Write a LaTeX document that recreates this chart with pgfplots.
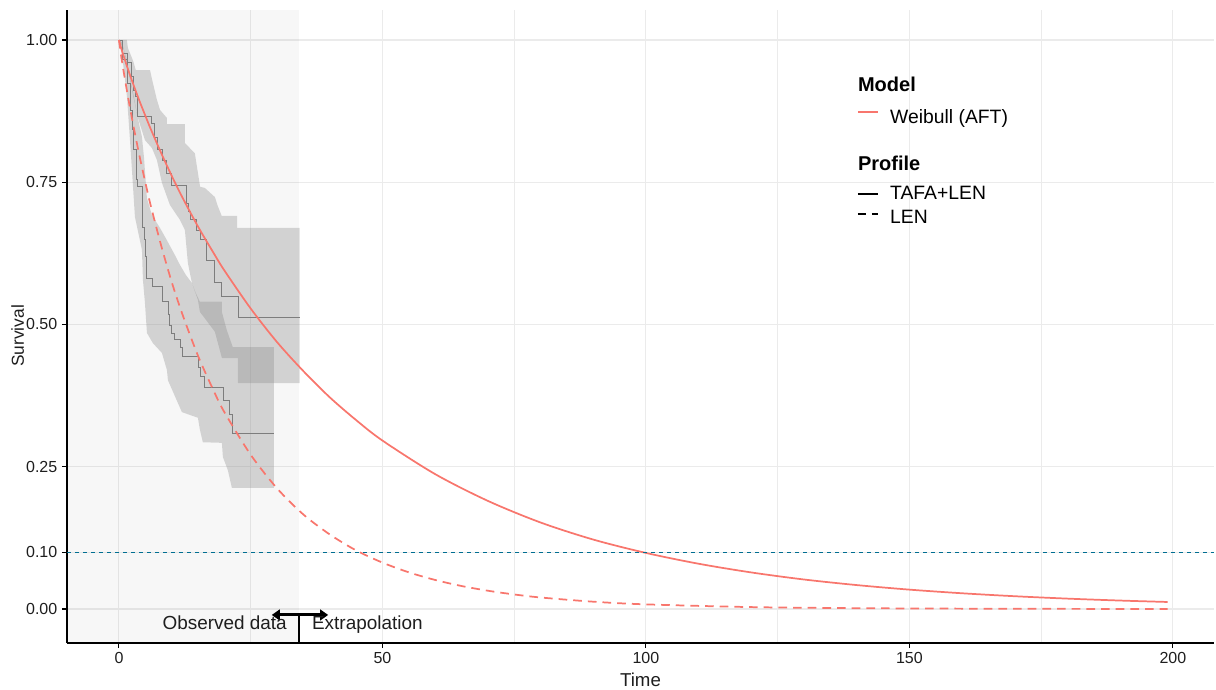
\documentclass[border=0pt]{standalone}
\usepackage{fontspec}
\setmainfont{Liberation Sans}
\usepackage{pgfplots}
\pgfplotsset{compat=1.18}
\usetikzlibrary{arrows.meta}
\definecolor{wred}{HTML}{F8766D}
\definecolor{hline}{RGB}{0,110,145}
\definecolor{gridc}{RGB}{235,235,235}
\definecolor{kmgray}{RGB}{125,125,125}
\definecolor{txt}{RGB}{30,30,30}
\begin{document}
\begin{tikzpicture}
\useasboundingbox (-50.25pt,-34.5pt) rectangle (861.75pt,482.25pt);
\begin{axis}[
  scale only axis, width=860.25pt, height=474.75pt,
  xmin=-9.86, xmax=207.8, ymin=-0.0598, ymax=1.0527,
  axis x line*=bottom, axis y line*=left,
  axis line style={black, line width=0.8pt},
  xtick={0,50,100,150,200}, xticklabels={0,50,100,150,200},
  minor xtick={25,75,125,175},
  ytick={0,0.1,0.25,0.5,0.75,1}, yticklabels={0.00,0.10,0.25,0.50,0.75,1.00},
  xmajorgrids, xminorgrids, ymajorgrids,
  major grid style={gridc, line width=0.8pt},
  minor grid style={gridc, line width=0.8pt},
  tick align=outside, major tick length=3.75pt, minor tick length=0pt,
  tick style={black, line width=0.8pt},
  /pgf/number format/assume math mode=true,
  ticklabel style={font=\fontsize{12}{14}\selectfont, text=txt},
  xlabel={Time}, ylabel={Survival},
  label style={text=txt},
  xlabel style={font=\fontsize{14}{16}\selectfont, at={(axis description cs:0.5,0)}, anchor=center, yshift=-27.75pt},
  ylabel style={font=\fontsize{13}{15}\selectfont, at={(axis description cs:0,0.5)}, anchor=center, yshift=37pt, xshift=-7pt},
  clip=true,
]
% observed-data background
\addplot[draw=none, fill=black, fill opacity=0.03] coordinates {(-9.86,-0.0598) (34.1,-0.0598) (34.1,1.0527) (-9.86,1.0527)} -- cycle;

% CI band TAFA+LEN
\addplot[draw=none, fill=gray, fill opacity=0.3] coordinates {
(0,1.0) (1.5,1.0) (1.7,0.986) (2.7,0.963) (3.2,0.947) (5.9,0.947) (6.3,0.930) (7.2,0.895) (7.8,0.877) (9.1,0.863) (9.1,0.852) (12.5,0.852) (12.5,0.819) (14.4,0.801) (15.4,0.742) (16.3,0.740) (18.2,0.724) (18.8,0.707) (19.5,0.691) (22.4,0.691) (22.4,0.670) (34.3,0.670)
(34.3,0.397) (22.56,0.397) (22.56,0.441) (19.53,0.441) (18.20,0.487) (15.36,0.522) (14.98,0.543) (13.84,0.573) (13.08,0.608) (12.51,0.666) (11.56,0.684) (9.67,0.710) (8.15,0.749) (7.20,0.789) (6.26,0.810) (4.93,0.824) (3.60,0.863) (2.65,0.903) (1.71,0.947) (0.95,0.982) (0,1.0)
} -- cycle;

% CI band LEN
\addplot[draw=none, fill=gray, fill opacity=0.3] coordinates {
(0,1.0) (0.57,0.996) (1.33,0.970) (2.09,0.935) (2.84,0.900) (3.60,0.862) (4.36,0.830) (4.74,0.795) (5.31,0.722) (6.26,0.692) (7.77,0.670) (9.10,0.648) (10.62,0.622) (11.56,0.605) (12.70,0.587) (13.84,0.573) (14.60,0.555) (15.36,0.540) (19.53,0.540) (19.53,0.522) (20.47,0.490) (21.61,0.460) (29.38,0.460)
(29.38,0.213) (21.42,0.213) (20.66,0.244) (19.72,0.267) (19.53,0.292) (15.92,0.293) (15.36,0.315) (14.98,0.336) (11.94,0.346) (9.29,0.402) (9.10,0.420) (8.15,0.450) (6.45,0.467) (5.31,0.485) (4.93,0.538) (4.55,0.578) (4.36,0.631) (3.03,0.689) (2.46,0.772) (2.09,0.824) (1.52,0.900) (0.76,0.960) (0.19,1.0) (0,1.0)
} -- cycle;

% KM TAFA+LEN
\addplot[const plot, kmgray, line width=0.7pt] coordinates {
(0,1.0) (0.76,0.977) (1.7,0.96) (2.3,0.935) (2.8,0.912) (3.2,0.90) (3.6,0.866) (6.26,0.854) (6.8,0.828) (7.4,0.807) (8.3,0.789) (9.1,0.766) (9.9,0.745) (12.9,0.713) (13.2,0.698) (13.5,0.684) (14.8,0.666) (15.4,0.649) (16.7,0.613) (18.2,0.573) (19.5,0.550) (22.6,0.513) (34.3,0.513)
};
% KM LEN
\addplot[const plot, kmgray, line width=0.7pt] coordinates {
(0,1.0) (0.76,0.965) (1.7,0.924) (2.1,0.877) (2.5,0.842) (2.8,0.807) (3.4,0.754) (3.6,0.742) (4.4,0.724) (4.5,0.671) (4.9,0.649) (5.1,0.619) (5.3,0.580) (6.4,0.566) (8.2,0.541) (9.3,0.517) (9.5,0.499) (9.9,0.485) (10.6,0.473) (11.6,0.459) (12.1,0.443) (15.0,0.425) (15.4,0.408) (16.3,0.390) (19.9,0.367) (20.9,0.341) (21.6,0.309) (29.4,0.309)
};

% Weibull TAFA+LEN
\addplot[wred, line width=1.3pt, smooth] coordinates {
(0,1.0) (0.5,0.983) (1,0.9685) (2,0.9408) (3,0.915) (4,0.8903) (5,0.867) (6,0.8442) (8,0.8015) (10,0.7615) (12,0.724) (15,0.6721) (18,0.625) (20,0.595) (25,0.528) (30,0.469) (35,0.418) (40,0.372) (45,0.332) (50,0.296) (60,0.237) (70,0.190) (80,0.152) (90,0.122) (100,0.0985) (110,0.0795) (120,0.0642) (130,0.0518) (140,0.0420) (150,0.0340) (160,0.0276) (170,0.0224) (180,0.0182) (190,0.0148) (199,0.0123)
};
% Weibull LEN
\addplot[wred, line width=1.3pt, smooth, dash pattern=on 6.5pt off 4.5pt] coordinates {
(0,1.0) (0.5,0.967) (1,0.9385) (2,0.8855) (3,0.837) (4,0.7918) (5,0.750) (6,0.710) (8,0.639) (10,0.575) (12,0.519) (15,0.445) (18,0.383) (20,0.346) (25,0.271) (30,0.212) (35,0.166) (40,0.131) (45,0.103) (50,0.0815) (55,0.0644) (60,0.0510) (65,0.0404) (70,0.0321) (75,0.0255) (80,0.0202) (90,0.0128) (100,0.0081) (120,0.0033) (140,0.0014) (160,0.0006) (180,0.0002) (199,0.0001)
};

% 10% reference line
\addplot[hline, line width=0.8pt, dash pattern=on 3pt off 3pt] coordinates {(-9.86,0.1) (207.8,0.1)};

% observed / extrapolation marker
\addplot[black, line width=1.5pt] coordinates {(34.1,-0.0598) (34.1,-0.0105)};
\addplot[black, line width=2.2pt, {Triangle[length=6pt,width=8pt]}-{Triangle[length=6pt,width=8pt]}] coordinates {(29.0,-0.0105) (39.7,-0.0105)};
\node[anchor=base east, font=\fontsize{14.2}{16}\selectfont, text=txt, inner sep=0pt] at (axis cs:31.9,-0.0369) {Observed data};
\node[anchor=base west, font=\fontsize{14.2}{16}\selectfont, text=txt, inner sep=0pt] at (axis cs:36.6,-0.0369) {Extrapolation};

% legend
\node[anchor=base west, inner sep=0pt, font=\fontsize{15}{17}\selectfont\bfseries] at (axis cs:140.2,0.910) {Model};
\draw[wred, line width=1.3pt] (axis cs:140.2,0.873) -- (axis cs:144.0,0.873);
\node[anchor=base west, inner sep=0pt, font=\fontsize{14.5}{17}\selectfont] at (axis cs:146.3,0.854) {Weibull (AFT)};
\node[anchor=base west, inner sep=0pt, font=\fontsize{15}{17}\selectfont\bfseries] at (axis cs:140.2,0.770) {Profile};
\draw[black, line width=1.3pt] (axis cs:140.2,0.729) -- (axis cs:144.0,0.729);
\node[anchor=base west, inner sep=0pt, font=\fontsize{14.5}{17}\selectfont] at (axis cs:146.3,0.719) {TAFA+LEN};
\draw[black, line width=1.3pt, dash pattern=on 6pt off 4.5pt] (axis cs:140.2,0.694) -- (axis cs:144.0,0.694);
\node[anchor=base west, inner sep=0pt, font=\fontsize{14.5}{17}\selectfont] at (axis cs:146.3,0.677) {LEN};
\end{axis}
\end{tikzpicture}
\end{document}
